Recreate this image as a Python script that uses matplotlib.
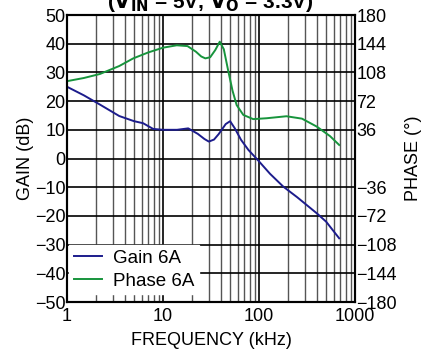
import numpy as np
import matplotlib
matplotlib.use('Agg')
import matplotlib.pyplot as plt
from matplotlib.ticker import FixedLocator, NullFormatter

plt.rcParams['font.family'] = ['Liberation Sans', 'DejaVu Sans']

# gain curve (kHz, dB)
gain_f = [1, 1.5, 2.2, 3.5, 5, 6.2, 7.9, 10, 14, 18.3, 23, 27, 30, 34, 38, 45, 50, 56, 65, 77.5,
          100, 130, 179, 250, 400, 500, 684]
gain_db = [25, 22, 18.8, 14.8, 13, 12.3, 10.3, 10, 10, 10.5, 8.6, 6.8, 5.9, 6.6, 8.5, 12, 13,
           10.5, 6.5, 3, -1, -5.3, -9.8, -13.5, -19.1, -22, -27.8]

# phase curve (kHz, deg)
phase_f = [1, 1.5, 2.2, 3.5, 4.9, 7, 10, 13.9, 18, 22, 25, 27.6, 31, 35, 39, 43, 47.6, 53, 58.5,
           68.6, 87, 120, 193, 280, 400, 550, 684]
phase_deg = [97, 101, 106, 116, 125.6, 133, 139, 142, 141, 134, 128, 125.6, 127, 136, 146.5, 137,
             111, 85, 67, 54.7, 49.4, 50.5, 53, 50, 40, 28, 17]

left_ticks = list(range(-50, 51, 10))
right_ticks = [-180, -144, -108, -72, -36, 36, 72, 108, 144, 180]

fig = plt.figure(figsize=(4.34, 3.58), dpi=100)
ax = fig.add_axes([0.1544, 0.1564, 0.6636, 0.8017])
ax2 = ax.twinx()

ax.set_xscale('log')
ax.set_xlim(1, 1000)
ax.set_ylim(-50, 50)
ax2.set_ylim(-180, 180)

minors = [m * 10 ** d for d in range(0, 3) for m in range(2, 10)]
ax.xaxis.set_minor_locator(FixedLocator(minors))
ax.xaxis.set_minor_formatter(NullFormatter())
ax.set_xticks([1, 10, 100, 1000])
ax.set_xticklabels(['1', '10', '100', '1000'])
ax.set_yticks(left_ticks)
ax2.set_yticks(right_ticks)

ax.grid(True, which='major', axis='both', color='black', lw=1.2)
ax.grid(True, which='minor', axis='x', color='#555555', lw=1.0)
ax.set_axisbelow(True)

lg, = ax.plot(gain_f, gain_db, color='#1c1c8c', lw=1.4, label='Gain 6A')
lp, = ax2.plot(phase_f, phase_deg, color='#17943c', lw=1.4, label='Phase 6A')

for a in (ax, ax2):
    a.tick_params(which='both', length=0, labelsize=13, pad=1)
    for s in a.spines.values():
        s.set_linewidth(1.5)
ax.tick_params(axis='x', pad=4)

ax.set_xlabel('FREQUENCY (kHz)', fontsize=13, labelpad=5)
ax.set_ylabel('GAIN (dB)', fontsize=13, labelpad=1)
ax2.set_ylabel('PHASE (°)', fontsize=13, labelpad=6)

leg = ax2.legend(handles=[lg, lp], loc='lower left', bbox_to_anchor=(0.0, 0.02),
                 fontsize=13.5, frameon=True, fancybox=False, framealpha=1,
                 edgecolor='white', handlelength=1.5, borderpad=0.25,
                 labelspacing=0.3, handletextpad=0.6, borderaxespad=0.1)

fig.text(0.485, 0.995, r'($\mathbf{V_{IN}}$ = 5V, $\mathbf{V_O}$ = 3.3V)',
         ha='center', va='center', fontsize=15, fontweight='bold')

fig.savefig('out.png', dpi=100)
